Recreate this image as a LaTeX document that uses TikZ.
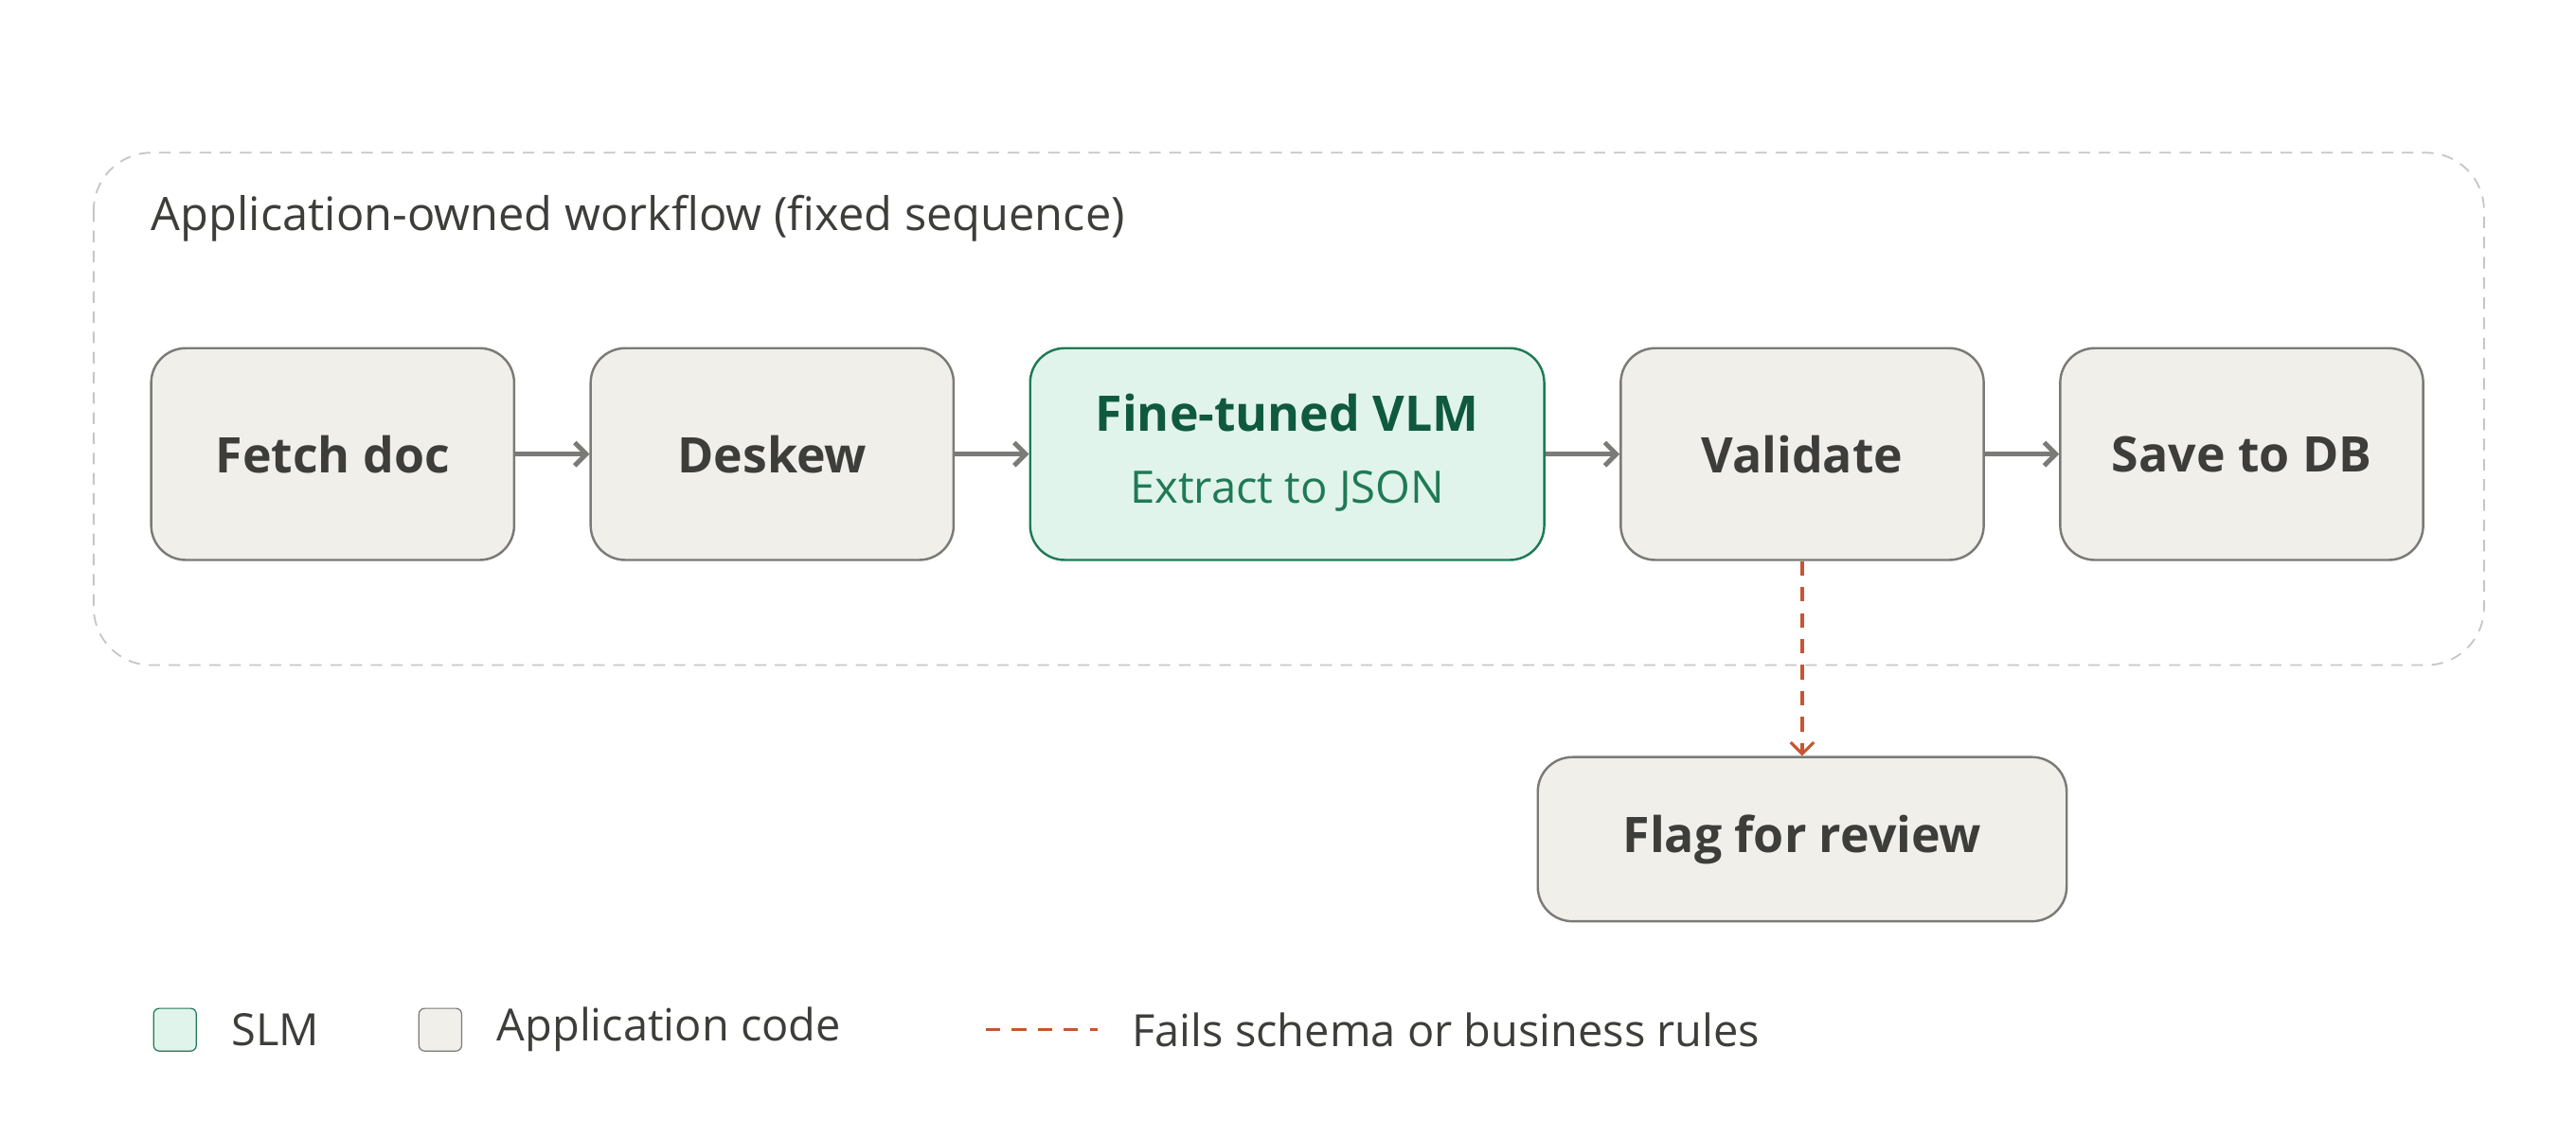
\documentclass[tikz,border=0pt]{standalone}
\usepackage{fontspec}
\setmainfont{Open Sans}
\usetikzlibrary{arrows.meta,positioning}
\definecolor{boxfill}{HTML}{F0EFEA}
\definecolor{boxline}{HTML}{7A7A76}
\definecolor{slmfill}{HTML}{E1F4EC}
\definecolor{slmline}{HTML}{1F7A55}
\definecolor{slmtext}{HTML}{0F5A3E}
\definecolor{txt}{HTML}{3D3D3A}
\definecolor{failc}{HTML}{C8552F}
\tikzset{
  stage/.style={draw=boxline, fill=boxfill, rounded corners=12pt, line width=0.8pt,
    minimum width=4.42cm, minimum height=2.58cm, text=txt,
    font=\fontsize{17}{20}\selectfont\bfseries},
  slm/.style={stage, draw=slmline, fill=slmfill, text=slmtext, minimum width=6.26cm},
  flow/.style={-{Straight Barb[length=4pt]}, draw=boxline, line width=1.6pt},
  fail/.style={-{Straight Barb[length=4pt]}, draw=failc, line width=1pt, dash pattern=on 5pt off 4pt},
  legend/.style={draw, rounded corners=2pt, minimum size=0.52cm, inner sep=0pt},
  ltext/.style={anchor=west, text=txt, font=\fontsize{15.4}{18}\selectfont},
}
\begin{document}
\begin{tikzpicture}[x=0.02cm,y=-0.02cm]
\useasboundingbox (0,0) rectangle (1568,692);
% workflow frame
\draw[gray!45, dash pattern=on 4pt off 3pt, rounded corners=20pt, line width=0.6pt]
  (57,93) rectangle (1512,405);
\node[ltext, font=\fontsize{16}{19}\selectfont] (title) at (86,133) {Application-owned workflow (fixed sequence)};
% steps
\node[stage] (fetch) at (202.5,276.5) {Fetch doc};
\node[stage] (deskew) at (470,276.5) {Deskew};
\node[slm, align=center, text depth=4pt] (vlm) at (783.5,276.5)
  {Fine-tuned VLM\\[5pt]{\fontsize{15.5}{18}\selectfont\mdseries\color{slmline}Extract to JSON}};
\node[stage] (validate) at (1097,276.5) {Validate};
\node[stage] (save) at (1364.5,276.5) {Save to DB};
\node[stage, minimum width=6.44cm, minimum height=2cm] (flag) at (1097,511) {Flag for review};
% connectors
\draw[flow] (fetch) -- (deskew);
\draw[flow] (deskew) -- (vlm.west|-deskew);
\draw[flow] (vlm.east|-validate) -- (validate);
\draw[flow] (validate) -- (save);
\draw[fail] (validate) -- (flag);
% legend
\node[legend, draw=slmline, fill=slmfill] (lslm) at (106.5,627) {};
\node[ltext, right=0.3cm of lslm] (tslm) {SLM};
\node[legend, draw=boxline, fill=boxfill] (lapp) at (268,627) {};
\node[ltext, right=0.3cm of lapp] (tapp) {Application code};
\coordinate (fa) at (600,627);
\coordinate (fb) at (668,627);
\draw[draw=failc, line width=1pt, dash pattern=on 5pt off 4pt] (fa) -- (fb);
\node[ltext, right=0.3cm of fb] (tfail) {Fails schema or business rules};
\end{tikzpicture}
\end{document}
